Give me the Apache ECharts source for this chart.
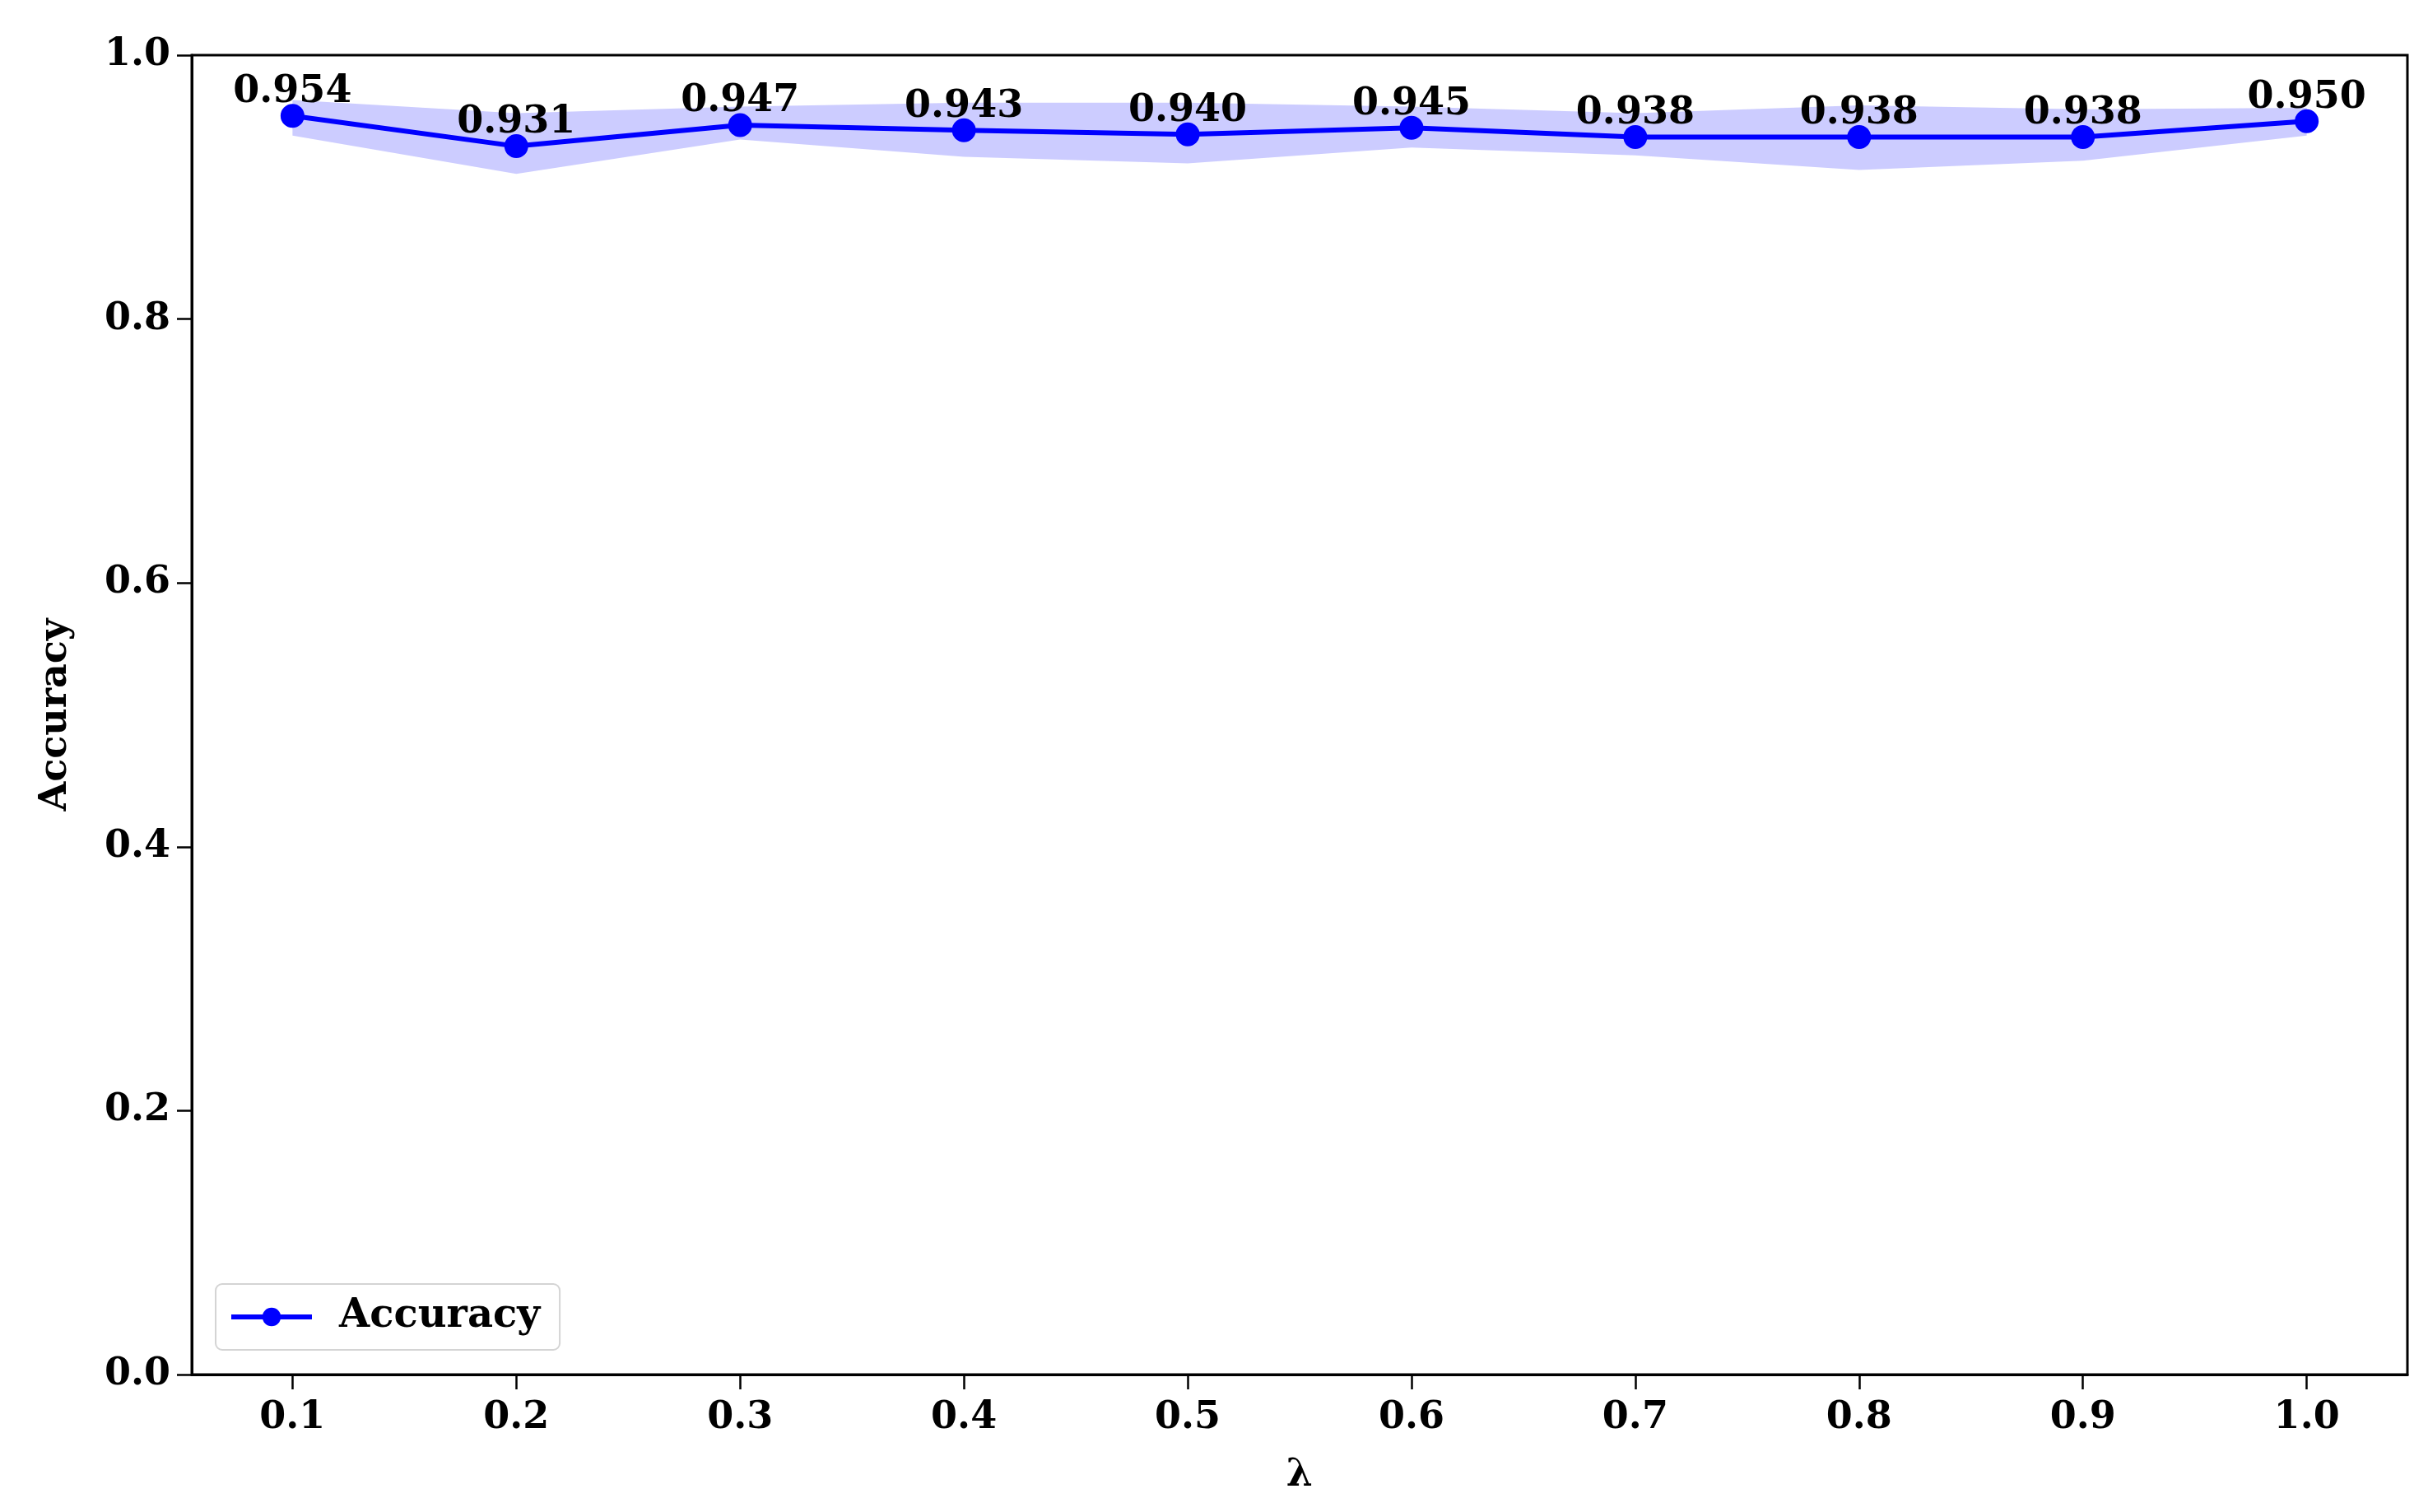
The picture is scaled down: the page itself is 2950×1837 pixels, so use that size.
<!DOCTYPE html>
<html>
<head>
<meta charset="utf-8">
<script src="https://cdn.jsdelivr.net/npm/echarts@6/dist/echarts.min.js"></script>
<style>
  html, body { margin: 0; padding: 0; background: #fff; }
  #main { width: 2950px; height: 1837px; }
</style>
</head>
<body>
<div id="main"></div>
<script>
// lambda values on the x axis
const lambdas = [0.1, 0.2, 0.3, 0.4, 0.5, 0.6, 0.7, 0.8, 0.9, 1.0];
// mean accuracy
const accuracy = [0.954, 0.931, 0.947, 0.943, 0.940, 0.945, 0.938, 0.938, 0.938, 0.950];
// shaded band
const bandLow  = [0.939, 0.910, 0.936, 0.923, 0.918, 0.930, 0.924, 0.913, 0.920, 0.939];
const bandHigh = [0.966, 0.956, 0.961, 0.964, 0.964, 0.961, 0.956, 0.962, 0.959, 0.960];

const font = 'DejaVu Serif';
const chart = echarts.init(document.getElementById('main'));

const option = {
  backgroundColor: '#fff',
  animation: false,
  grid: {
    left: 233, right: 25, top: 67, bottom: 167,
    show: true, borderColor: '#000', borderWidth: 3
  },
  legend: {
    left: 262, top: 1560,
    data: ['Accuracy'],
    itemWidth: 98, itemHeight: 28, itemGap: 10,
    padding: [16, 24, 16, 16],
    borderColor: '#d4d4d4', borderWidth: 2, borderRadius: 8,
    backgroundColor: 'rgba(255,255,255,0.8)',
    lineStyle: { width: 6 },
    textStyle: { fontFamily: font, fontWeight: 'bold', fontSize: 48, color: '#000', padding: [0, 0, 0, 28] }
  },
  xAxis: {
    type: 'value', min: 0.055, max: 1.045,
    name: 'λ', nameLocation: 'middle', nameGap: 100,
    nameTextStyle: { fontFamily: font, fontWeight: 'bold', fontSize: 46, color: '#000' },
    splitLine: { show: false },
    axisLine: { show: true, lineStyle: { color: '#000', width: 3 } },
    axisTick: { show: true, inside: false, length: 18, customValues: lambdas, lineStyle: { color: '#000', width: 2.5 } },
    axisLabel: {
      customValues: lambdas, margin: 30,
      formatter: v => v.toFixed(1),
      fontFamily: font, fontWeight: 'bold', fontSize: 46, color: '#000'
    }
  },
  yAxis: {
    type: 'value', min: 0, max: 1, interval: 0.2,
    name: 'Accuracy', nameLocation: 'middle', nameGap: 142, nameRotate: 90,
    nameTextStyle: { fontFamily: font, fontWeight: 'bold', fontSize: 46, color: '#000' },
    splitLine: { show: false },
    axisLine: { show: true, lineStyle: { color: '#000', width: 3 } },
    axisTick: { show: true, inside: false, length: 18, lineStyle: { color: '#000', width: 2.5 } },
    axisLabel: {
      margin: 26,
      formatter: v => v.toFixed(1),
      fontFamily: font, fontWeight: 'bold', fontSize: 46, color: '#000'
    }
  },
  series: [
    {
      // band between low and high, drawn through the axes' coord()
      type: 'custom',
      name: 'band',
      z: 1,
      silent: true,
      data: [0],
      renderItem: function (params, api) {
        const pts = [];
        lambdas.forEach((x, i) => pts.push(api.coord([x, bandHigh[i]])));
        for (let i = lambdas.length - 1; i >= 0; i--) pts.push(api.coord([lambdas[i], bandLow[i]]));
        return {
          type: 'polygon',
          shape: { points: pts },
          style: { fill: 'rgba(0,0,255,0.2)', stroke: 'none' }
        };
      }
    },
    {
      type: 'line',
      name: 'Accuracy',
      z: 3,
      data: lambdas.map((x, i) => [x, accuracy[i]]),
      symbol: 'circle',
      symbolSize: 29,
      showAllSymbol: true,
      itemStyle: { color: '#0000ff' },
      lineStyle: { color: '#0000ff', width: 6 },
      label: {
        show: true, position: 'top', distance: 0, offset: [0, 9],
        formatter: p => p.value[1].toFixed(3),
        fontFamily: font, fontWeight: 'bold', fontSize: 46, color: '#000'
      }
    }
  ]
};

chart.setOption(option);
</script>
</body>
</html>
